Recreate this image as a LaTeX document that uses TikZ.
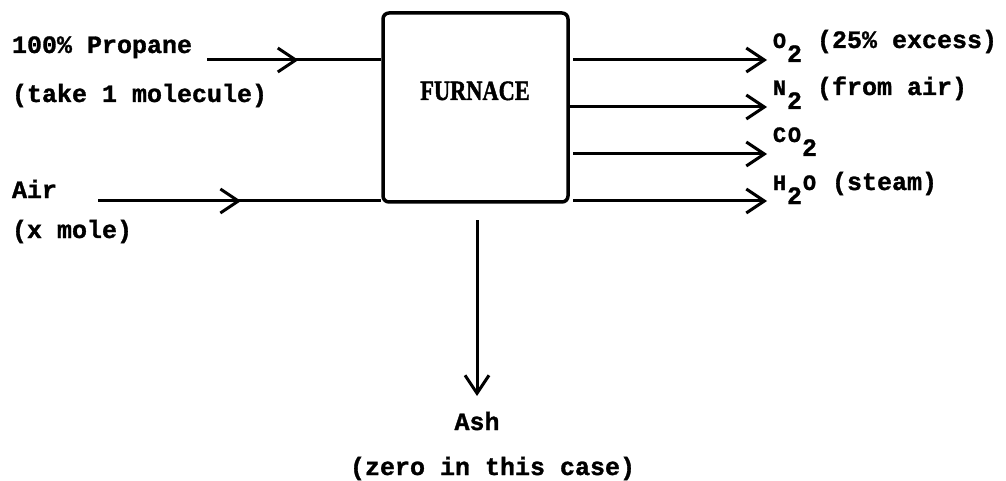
\documentclass[tikz,border=0pt]{standalone}
\usepackage{fontspec}
\newfontfamily\twfont{Liberation Mono Bold}[FakeBold=1.2]
\newfontfamily\boxfont{Liberation Serif Bold}[FakeBold=1.6]
\usetikzlibrary{arrows.meta,decorations.markings}
\newcommand\elem[1]{\makebox[15pt]{\fontsize{22}{22}\selectfont #1}}
\newcommand\lowdig[1]{\raisebox{-14pt}{#1}}
\tikzset{
  txt/.style={inner sep=0pt, outer sep=0pt, anchor=base west, font=\twfont\fontsize{25}{25}\selectfont},
  flow/.style={line width=3pt},
  barb/.style={-{Straight Barb[length=18pt,width=24pt,line width=3pt]}},
  midbarb/.style={line width=3pt, postaction={decorate}, decoration={markings, mark=at position #1 with {\arrow{Straight Barb[length=18pt,width=24pt,line width=3pt]}}}},
  furnacebox/.style={draw, line width=3.5pt, rounded corners=6pt, inner sep=0pt, minimum width=185pt, minimum height=189pt}
}
\begin{document}
\begin{tikzpicture}[x=1pt,y=-1pt]
\useasboundingbox (0,0) rectangle (1006,481);
% box
\node[furnacebox] (box) at (475.5,107.5) {};
\node[inner sep=0pt, anchor=base] (furnace) at (475,100) {\scalebox{0.8}[1]{\boxfont\fontsize{28}{28}\selectfont FURNACE}};
% inputs
\node[txt] (prop) at (12,53) {100\% Propane};
\node[txt] (propsub) at (12,102) {(take 1 molecule)};
\node[txt] (air) at (12,198) {Air};
\node[txt] (airsub) at (12,238) {(x mole)};
\coordinate (propstart) at (207,60);
\coordinate (airstart) at (98,201);
\draw[midbarb=0.525] (propstart) -- (box.west |- propstart);
\draw[midbarb=0.505] (airstart) -- (box.west |- airstart);
% outputs
\node[txt] (o2) at (772,48) {\elem{O}\lowdig{2} (25\% excess)};
\node[txt] (n2) at (772,95) {\elem{N}\lowdig{2} (from air)};
\node[txt] (co2) at (772,142) {\elem{C}\elem{O}\lowdig{2}};
\node[txt] (h2o) at (772,190) {\elem{H}\lowdig{2}\elem{O} (steam)};
\coordinate (o2s) at (573,60);   \coordinate (o2t) at (767,60);
\coordinate (n2s) at (569,107);  \coordinate (n2t) at (767,107);
\coordinate (co2s) at (573,154); \coordinate (co2t) at (767,154);
\coordinate (h2os) at (573,201); \coordinate (h2ot) at (767,201);
\draw[flow,barb] (o2s) -- (o2t);
\draw[flow,barb] (n2s) -- (n2t);
\draw[flow,barb] (co2s) -- (co2t);
\draw[flow,barb] (h2os) -- (h2ot);
% ash
\node[txt, anchor=base] (ash) at (477,430) {Ash};
\node[txt] (ashsub) at (350,475) {(zero in this case)};
\coordinate (ashstart) at (477,220);
\coordinate (ashtip) at (477,396);
\draw[flow,barb] (ashstart) -- (ashtip);
\end{tikzpicture}
\end{document}
